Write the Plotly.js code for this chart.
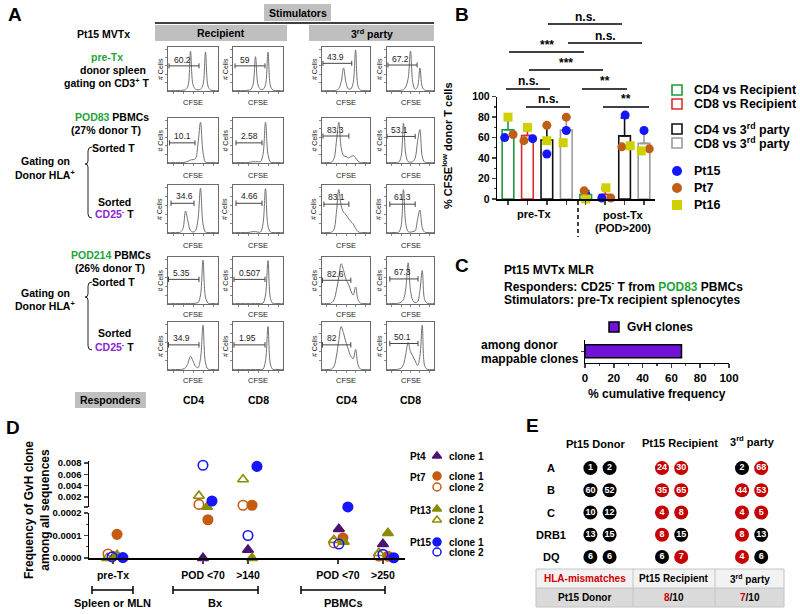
<!DOCTYPE html>
<html>
<head>
<meta charset="utf-8">
<script src="https://cdn.plot.ly/plotly-3.0.1.min.js"></script>
<style>html,body{margin:0;padding:0;background:#ffffff;}#chart{width:800px;height:614px;}</style>
</head>
<body>
<div id="chart"></div>
<script>
// ======================= DATA =======================
// ---- Panel A: CFSE dilution histograms (normalised log-CFSE grid, relative # cells) ----
const cfseGrid = [0,0.05,0.1,0.15,0.2,0.25,0.3,0.35,0.4,0.45,0.5,0.55,0.6,0.65,0.7,0.75,0.8,0.85,0.9,0.95,1];
// row 1: pre-Tx donor spleen
const histR1C1 = [.01,.01,.01,.01,.01,.01,.02,.03,.12,.95,.15,.04,.03,.04,.15,.93,.12,.02,.01,.01,.01];
const histR1C2 = [.01,.01,.01,.01,.01,.01,.02,.03,.15,.82,.15,.04,.04,.15,.93,.12,.02,.01,.01,.01,.01];
const histR1C3 = [.01,.01,.01,.01,.01,.01,.02,.06,.22,.55,.2,.05,.05,.2,.98,.12,.02,.01,.01,.01,.01];
const histR1C4 = [.01,.01,.01,.01,.01,.01,.02,.03,.1,.3,.95,.2,.04,.1,.55,.1,.02,.01,.01,.01,.01];
// row 2: POD83 sorted T
const histR2C1 = [.01,.01,.01,.01,.01,.01,.01,.02,.04,.07,.08,.1,.45,.95,.25,.02,.01,.01,.01,.01,.01];
const histR2C2 = [.01,.01,.01,.01,.01,.01,.01,.02,.03,.03,.03,.03,.2,.95,.2,.02,.01,.01,.01,.01,.01];
const histR2C3 = [.01,.01,.01,.01,.02,.1,.5,.95,.35,.17,.15,.12,.15,.17,.12,.04,.01,.01,.01,.01,.01];
const histR2C4 = [.01,.01,.01,.01,.01,.02,.15,.93,.2,.03,.02,.03,.12,.5,.78,.15,.02,.01,.01,.01,.01];
// row 3: POD83 sorted CD25- T
const histR3C1 = [.01,.01,.01,.01,.01,.02,.1,.48,.25,.05,.02,.05,.3,.98,.2,.02,.01,.01,.01,.01,.01];
const histR3C2 = [.01,.01,.01,.01,.01,.01,.01,.02,.03,.03,.02,.02,.2,.97,.15,.02,.01,.01,.01,.01,.01];
const histR3C3 = [.01,.01,.01,.01,.02,.08,.45,.95,.6,.45,.4,.32,.25,.2,.1,.03,.01,.01,.01,.01,.01];
const histR3C4 = [.01,.01,.01,.01,.01,.02,.15,.95,.2,.03,.02,.03,.05,.3,.5,.12,.02,.01,.01,.01,.01];
// row 4: POD214 sorted T
const histR4C1 = [.01,.01,.01,.01,.01,.01,.01,.01,.01,.01,.01,.02,.03,.2,.98,.15,.02,.01,.01,.01,.01];
const histR4C2 = [.01,.01,.01,.01,.01,.01,.01,.01,.01,.01,.01,.01,.02,.2,.97,.12,.01,.01,.01,.01,.01];
const histR4C3 = [.01,.01,.01,.01,.03,.1,.3,.6,.9,.75,.55,.45,.3,.2,.38,.1,.02,.01,.01,.01,.01];
const histR4C4 = [.01,.01,.01,.01,.01,.02,.04,.1,.35,.92,.3,.08,.03,.05,.3,.75,.1,.02,.01,.01,.01];
// row 5: POD214 sorted CD25- T
const histR5C1 = [.01,.01,.01,.01,.01,.01,.02,.05,.15,.3,.2,.08,.05,.25,.98,.15,.02,.01,.01,.01,.01];
const histR5C2 = [.01,.01,.01,.01,.01,.01,.01,.01,.01,.01,.01,.01,.02,.2,.95,.12,.01,.01,.01,.01,.01];
const histR5C3 = [.01,.01,.01,.01,.02,.08,.3,.65,.95,.8,.6,.45,.3,.25,.45,.12,.02,.01,.01,.01,.01];
const histR5C4 = [.01,.01,.01,.01,.01,.02,.04,.12,.35,.6,.4,.3,.2,.1,.3,.98,.1,.02,.01,.01,.01];
// gate percentages (CFSE-low)
const gateR1 = ['60.2','59','43.9','67.2'];
const gateR2 = ['10.1','2.58','83.3','53.1'];
const gateR3 = ['34.6','4.66','83.1','61.3'];
const gateR4 = ['5.35','0.507','82.6','67.3'];
const gateR5 = ['34.9','1.95','82','50.1'];
// gate extents (CFSE grid units) and level (# cells units)
const gateLoR1 = [.02,.04,.02,.02], gateHiR1 = [.62,.64,.62,.64], gateLvR1 = [.6,.6,.66,.62];
const gateLoR2 = [.03,.06,.02,.0],  gateHiR2 = [.54,.58,.56,.6],  gateLvR2 = [.47,.47,.63,.62];
const gateLoR3 = [.06,.06,.04,.06], gateHiR3 = [.52,.58,.56,.6],  gateLvR3 = [.65,.65,.63,.63];
const gateLoR4 = [.01,.02,.01,.06], gateHiR4 = [.62,.64,.6,.66],  gateLvR4 = [.55,.55,.53,.56];
const gateLoR5 = [.01,.02,.01,.06], gateHiR5 = [.62,.64,.6,.66],  gateLvR5 = [.55,.55,.55,.58];
const respondersA = ['CD4','CD8','CD4','CD8'];

// ---- Panel B ----
const bConditions = ['CD4 vs Recipient','CD8 vs Recipient','CD4 vs 3<sup>rd</sup> party','CD8 vs 3<sup>rd</sup> party'];
const bSlots = [1,2,3,4,5,6,7,8];           // pre-Tx: 1-4, post-Tx: 5-8
const bPatients = ['Pt15','Pt7','Pt16'];
const bPt15 = [60,59,44,67,5,1,82,67];
const bPt7  = [63,57,72,80,8,1,51,49];
const bPt16 = [80,70,57,55,0,11,52,47];
const bJitPt15 = [-0.17,0.27,0,0,0,-0.17,0.03,0];
const bJitPt7  = [0.26,-0.18,0,0,-0.08,0.29,-0.14,0.27];
const bJitPt16 = [0,0,0,-0.16,0,0.04,0.29,-0.14];
const bSigText = ['n.s.','n.s.','***','***','n.s.','**','n.s.','**'];

// ---- Panel C ----
const cSeries = 'GvH clones';
const cCategory = ['among donor','mappable clones'];
const cValue = [67];

// ---- Panel D ----
const dTickVals = [0,2,3,5,6];
const dTickText = ['pre-Tx','POD &lt;70','&gt;140','POD &lt;70','&gt;250'];
const dPt4c1  = [0.000005,0,0.000036,0.000129,0.000062];
const dPt7c1  = [0.000105,0.00017,0.00055,0.000089,0.000008];
const dPt7c2  = [0.000018,0.0007,0.00055,0.000067,0.000009];
const dPt13c1 = [0.000013,0.00025,0,0.000072,0.000111];
const dPt13c2 = [0,0.0022,0.0051,0.00008,0.000022];
const dPt15c1 = [0.000002,0.0013,0.0074,0.00025,0.000001];
const dPt15c2 = [0.000005,0.0076,0.0001,0.000062,0.000016];
const dJitPt4c1  = [0.02,0,0,0.02,0];
const dJitPt7c1  = [0.09,0.11,0.09,0.11,0.11];
const dJitPt7c2  = [-0.11,-0.09,-0.11,-0.09,-0.09];
const dJitPt13c1 = [0.09,0.09,0.09,0.13,0.11];
const dJitPt13c2 = [-0.13,-0.09,-0.11,-0.09,-0.09];
const dJitPt15c1 = [0.22,0.2,0.2,0.22,0.24];
const dJitPt15c2 = [-0.02,0,0,0.02,0];
const dLowTicks = [0,0.0001,0.0002], dLowText = ['0.0000','0.0001','0.0002'];
const dHighTicks = [0.002,0.004,0.006,0.008], dHighText = ['0.002','0.004','0.006','0.008'];

// ---- Panel E ----
const eLoci = ['A','B','C','DRB1','DQ'];
const eDonor     = [[1,2],[60,52],[10,12],[13,15],[6,6]];
const eRecipient = [[24,30],[35,65],[4,8],[8,15],[6,7]];
const eThird     = [[2,68],[44,53],[4,5],[8,13],[4,6]];
const eHeaders = ['Pt15 Donor','Pt15 Recipient','3<sup>rd</sup> party'];

// ======================= LAYOUT HELPERS =======================
const W = 800, H = 614;
const FONT = '"Liberation Sans", Arial, Helvetica, sans-serif';
const px = v => v / W, py = v => 1 - v / H;
const layout = {
  width: W, height: H, margin: {l:0, r:0, t:0, b:0, pad:0},
  paper_bgcolor: '#ffffff', plot_bgcolor: 'rgba(0,0,0,0)', showlegend: false,
  font: {family: FONT, size: 10, color: '#000'}, barmode: 'overlay',
  annotations: [], shapes: []
};
const data = [];
function T(x, y, text, o) {
  o = o || {};
  const a = {
    xref: o.xref || 'paper', yref: o.yref || 'paper',
    x: o.xref ? x : px(x), y: o.yref ? y : py(y),
    text: text, showarrow: false, xanchor: o.anchor || 'center', yanchor: 'middle',
    font: {family: FONT, size: o.size || 10.5, color: o.color || '#000', weight: o.weight || 'bold'}
  };
  if (o.angle !== undefined) a.textangle = o.angle;
  layout.annotations.push(a);
}
function rectPx(x0, y0, x1, y1, fill, lineColor) {
  layout.shapes.push({type:'rect', xref:'paper', yref:'paper', x0:px(x0), x1:px(x1), y0:py(y1), y1:py(y0),
    fillcolor: fill, line: lineColor ? {color: lineColor, width: 1} : {width: 0}, layer: 'below'});
}
function linePx(x0, y0, x1, y1, color, width, dash) {
  layout.shapes.push({type:'line', xref:'paper', yref:'paper', x0:px(x0), x1:px(x1), y0:py(y0), y1:py(y1),
    line: {color: color || '#000', width: width || 1, dash: dash || 'solid'}});
}
const P = (a, b) => px(a) + ',' + py(b);
function brace(x, top, tip, bottom) {
  layout.shapes.push({type:'path', xref:'paper', yref:'paper', line:{color:'#222', width:1},
    path: `M${P(x+4,top)} Q${P(x,top)} ${P(x,top+4)} L${P(x,tip-3)} Q${P(x,tip)} ${P(x-3,tip)} Q${P(x,tip)} ${P(x,tip+3)} L${P(x,bottom-4)} Q${P(x,bottom)} ${P(x+4,bottom)}`});
}
function hbracket(x0, x1, y) {
  layout.shapes.push({type:'path', xref:'paper', yref:'paper', line:{color:'#000', width:1.5},
    path: `M${P(x0,y-4)} L${P(x0,y+4)} M${P(x0,y)} L${P(x1,y)} M${P(x1,y-4)} L${P(x1,y+4)}`});
}

// ======================= PANEL A =======================
const histAll = [[histR1C1,histR1C2,histR1C3,histR1C4],[histR2C1,histR2C2,histR2C3,histR2C4],
  [histR3C1,histR3C2,histR3C3,histR3C4],[histR4C1,histR4C2,histR4C3,histR4C4],[histR5C1,histR5C2,histR5C3,histR5C4]];
const gateAll = [gateR1,gateR2,gateR3,gateR4,gateR5];
const gateLo = [gateLoR1,gateLoR2,gateLoR3,gateLoR4,gateLoR5];
const gateHi = [gateHiR1,gateHiR2,gateHiR3,gateHiR4,gateHiR5];
const gateLv = [gateLvR1,gateLvR2,gateLvR3,gateLvR4,gateLvR5];
const aColX = [[168,218],[233,283],[322,370],[387,434]];
const aRowY = [[47,91],[118,163],[185,233],[257,304],[322,370]];
const aCfseY = [103,175,246,314,380];
for (let r = 0; r < 5; r++) {
  for (let c = 0; c < 4; c++) {
    const i = r * 4 + c + 1, s = i === 1 ? '' : String(i);
    const [x0, x1] = aColX[c], [y0, y1] = aRowY[r];
    const common = {showline:true, mirror:true, linecolor:'#6a6a6a', linewidth:1, ticks:'outside', ticklen:2,
      tickwidth:0.8, tickcolor:'#6a6a6a', showticklabels:false, showgrid:false, zeroline:false, fixedrange:true};
    layout['xaxis' + s] = Object.assign({domain:[px(x0), px(x1)], range:[0,1], anchor:'y' + s,
      tickvals:[0.1,0.3,0.5,0.7,0.9]}, common);
    layout['yaxis' + s] = Object.assign({domain:[py(y1), py(y0)], range:[0,1.05], anchor:'x' + s,
      tickvals:[0.2,0.4,0.6,0.8,1.0]}, common);
    data.push({type:'scatter', mode:'lines', x:cfseGrid, y:histAll[r][c], xaxis:'x' + s, yaxis:'y' + s,
      line:{color:'#707070', width:1, shape:'spline', smoothing:1}, hoverinfo:'skip'});
    const lo = gateLo[r][c], hi = gateHi[r][c], lv = gateLv[r][c];
    layout.shapes.push({type:'path', xref:'x' + s, yref:'y' + s, line:{color:'#444', width:1},
      path:`M${lo},${lv-0.06} L${lo},${lv+0.06} M${lo},${lv} L${hi},${lv} M${hi},${lv-0.06} L${hi},${lv+0.06}`});
    T(lo + 0.05, lv + 0.15, gateAll[r][c], {xref:'x' + s, yref:'y' + s, anchor:'left', size:8.5, weight:'normal', color:'#222'});
    T((x0 + x1) / 2, aCfseY[r], 'CFSE', {size:7.5, weight:'normal', color:'#222'});
    T(x0 - 8, (y0 + y1) / 2, '# Cells', {size:7, weight:'normal', color:'#222', angle:-90});
  }
}
// headers / labels of panel A
T(15, 14, 'A', {size:19});
rectPx(264, 4, 331, 21, '#bfbfbf'); T(297.5, 12.5, 'Stimulators');
linePx(155, 23, 434, 23, '#000', 1.5);
rectPx(155, 25, 287, 41, '#bfbfbf'); T(221, 33, 'Recipient');
rectPx(309, 25, 434, 41, '#bfbfbf'); T(371.5, 33, '3<sup>rd</sup> party');
rectPx(75, 392, 146, 408, '#bfbfbf'); T(110.5, 400, 'Responders');
respondersA.forEach((t, c) => T((aColX[c][0] + aColX[c][1]) / 2, 400, t));
const GREEN = '#1fa33a', PURPLE = '#8e24d8';
T(103, 34, 'Pt15 MVTx');
T(107, 57, 'pre-Tx', {color: GREEN});
T(113, 70, 'donor spleen');
T(106, 82, 'gating on CD3<sup>+</sup> T');
T(112, 117, `<span style="color:${GREEN}">POD83</span> PBMCs`);
T(106, 130, '(27% donor T)');
T(114, 148, 'Sorted T');
T(45, 161, 'Gating on'); T(45, 174, 'Donor HLA<sup>+</sup>');
T(114.5, 202, 'Sorted');
T(115, 214, `<span style="color:${PURPLE}">CD25<sup>-</sup></span> T`);
T(111, 255, `<span style="color:${GREEN}">POD214</span> PBMCs`);
T(110, 268, '(26% donor T)');
T(114, 282, 'Sorted T');
T(45, 293, 'Gating on'); T(45, 305, 'Donor HLA<sup>+</sup>');
T(114.5, 333, 'Sorted');
T(115, 346, `<span style="color:${PURPLE}">CD25<sup>-</sup></span> T`);
brace(88, 147, 164, 218);
brace(88, 282, 297, 350);

// ======================= PANEL B =======================
const condColors = ['#1c9b3e','#e02a2a','#111111','#9b9b9b'];
const bSeries = [bPt15, bPt7, bPt16];
const bJit = [bJitPt15, bJitPt7, bJitPt16];
const bMean = [], bSD = [];
for (let j = 0; j < bSlots.length; j++) {
  const v = bSeries.map(s => s[j]);
  const m = v.reduce((a, b) => a + b, 0) / v.length;
  bMean.push(m);
  bSD.push(Math.sqrt(v.reduce((a, b) => a + (b - m) * (b - m), 0) / (v.length - 1)));
}
layout.xaxis21 = {domain:[px(497.3), px(654.7)], range:[0.45, 8.55], anchor:'y21', showline:true, linecolor:'#000',
  linewidth:1.5, ticks:'outside', ticklen:4, tickwidth:1.5, tickvals:bSlots, showticklabels:false, showgrid:false, zeroline:false};
layout.yaxis21 = {domain:[py(199), py(96.7)], range:[0, 100], anchor:'x21', showline:true, linecolor:'#000', linewidth:1.5,
  ticks:'outside', ticklen:4, tickwidth:1.5, tickvals:[0,20,40,60,80,100], tickfont:{size:10.5, weight:'bold'},
  minor:{tickvals:[10,30,50,70,90], ticks:'outside', ticklen:2, tickwidth:1.2}, showgrid:false, zeroline:false};
for (let k = 0; k < 4; k++) {
  data.push({type:'bar', x:[bSlots[k], bSlots[k + 4]], y:[bMean[k], bMean[k + 4]], width:0.6, xaxis:'x21', yaxis:'y21',
    name: bConditions[k], marker:{color:'#ffffff', line:{color:condColors[k], width:1.6}},
    error_y:{type:'data', symmetric:false, array:[bSD[k], bSD[k + 4]], arrayminus:[0, 0], color:condColors[k], thickness:1.6, width:4},
    hoverinfo:'skip'});
}
const ptStyles = [{color:'#1515ff', symbol:'circle'}, {color:'#bf5f16', symbol:'circle'}, {color:'#d0d000', symbol:'square'}];
bSeries.forEach((s, p) => {
  data.push({type:'scatter', mode:'markers', name:bPatients[p], x:bSlots.map((b, j) => b + bJit[p][j]), y:s,
    xaxis:'x21', yaxis:'y21', cliponaxis:false, marker:{color:ptStyles[p].color, symbol:ptStyles[p].symbol, size:9}, hoverinfo:'skip'});
});
T(462, 14, 'B', {size:19});
T(447, 146, '% CFSE<sup>low</sup> donor T cells', {size:11, angle:-90});
T(534, 214, 'pre-Tx', {size:11});
T(623, 215, 'post-Tx', {size:11});
T(623, 228, '(POD&gt;200)', {size:11});
linePx(578, 201, 578, 237, '#000', 1.5, '4px,3px');
// significance bars [x0, x1, y], same order as bSigText
const sigBars = [[548,622,24],[568,642,43],[509,584,52],[529,603,70],[506,550,89],[582,627,89],[526,570,107],[603,649,107]];
sigBars.forEach((b, i) => {
  linePx(b[0], b[2], b[1], b[2], '#000', 1.5);
  T((b[0] + b[1]) / 2, b[2] - 7.5, bSigText[i], {size:12});
});

// ======================= PANEL C =======================
const PURP_BAR = '#7112d8';
layout.xaxis22 = {domain:[px(585), px(729)], range:[0, 100], anchor:'y22', showline:true, linecolor:'#000', linewidth:1.5,
  ticks:'outside', ticklen:4, tickwidth:1.5, tickvals:[0,20,40,60,80,100], tickfont:{size:11.5, weight:'bold'},
  minor:{tickvals:[10,30,50,70,90], ticks:'outside', ticklen:2, tickwidth:1.2}, showgrid:false, zeroline:false};
layout.yaxis22 = {domain:[py(362.5), py(340)], range:[-0.5, 0.5], anchor:'x22', showline:true, linecolor:'#000', linewidth:1.5,
  ticks:'outside', ticklen:3, tickwidth:1.5, tickvals:[0], showticklabels:false, showgrid:false, zeroline:false};
data.push({type:'bar', orientation:'h', x:cValue, y:[0], width:0.57, xaxis:'x22', yaxis:'y22', name:cSeries,
  marker:{color:PURP_BAR, line:{color:'#000', width:1.5}}, hoverinfo:'skip'});
T(462, 265, 'C', {size:19});
T(502, 270, 'Pt15 MVTx MLR', {anchor:'left', size:12});
T(502, 286, `Responders: CD25<sup>-</sup> T from <span style="color:${GREEN}">POD83</span> PBMCs`, {anchor:'left', size:12});
T(502, 300, 'Stimulators: pre-Tx recipient splenocytes', {anchor:'left', size:12});
T(479, 345, cCategory[0], {anchor:'left', size:12});
T(479, 359, cCategory[1], {anchor:'left', size:12});
T(657, 394, '% cumulative frequency', {size:12});
T(625, 327, cSeries, {anchor:'left', size:12});

// ======================= PANEL D =======================
layout.xaxis23 = {domain:[px(89), px(405)], range:[-0.533, 6.49], anchor:'y23', showline:true, linecolor:'#000', linewidth:1.5,
  ticks:'outside', ticklen:4, tickwidth:1.5, tickvals:dTickVals, ticktext:dTickText, tickfont:{size:10.5, weight:'bold'},
  ticklabelstandoff:3, showgrid:false, zeroline:false};
layout.yaxis23 = {domain:[py(558), py(513)], range:[0, 0.0002], anchor:'x23', showline:true, linecolor:'#000', linewidth:1.5,
  ticks:'outside', ticklen:4, tickwidth:1.5, tickvals:dLowTicks, ticktext:dLowText, tickfont:{size:9.5, weight:'bold'},
  minor:{tickvals:[0.00005,0.00015], ticks:'outside', ticklen:2, tickwidth:1.2}, showgrid:false, zeroline:false};
layout.yaxis24 = {domain:[py(507), py(461.3)], range:[0.00024, 0.0083], anchor:'x23', showline:true, linecolor:'#000', linewidth:1.5,
  ticks:'outside', ticklen:4, tickwidth:1.5, tickvals:dHighTicks, ticktext:dHighText, tickfont:{size:9.5, weight:'bold'},
  minor:{tickvals:[0.00024], ticks:'outside', ticklen:4, tickwidth:1.5}, showgrid:false, zeroline:false};
const dSeries = [
  {grp:'Pt4', name:'clone 1', v:dPt4c1, j:dJitPt4c1, color:'#4b1470', symbol:'triangle-up'},
  {grp:'Pt7', name:'clone 1', v:dPt7c1, j:dJitPt7c1, color:'#c55a11', symbol:'circle'},
  {grp:'Pt7', name:'clone 2', v:dPt7c2, j:dJitPt7c2, color:'#c55a11', symbol:'circle-open'},
  {grp:'Pt13', name:'clone 1', v:dPt13c1, j:dJitPt13c1, color:'#8c8c00', symbol:'triangle-up'},
  {grp:'Pt13', name:'clone 2', v:dPt13c2, j:dJitPt13c2, color:'#8c8c00', symbol:'triangle-up-open'},
  {grp:'Pt15', name:'clone 1', v:dPt15c1, j:dJitPt15c1, color:'#1515ff', symbol:'circle'},
  {grp:'Pt15', name:'clone 2', v:dPt15c2, j:dJitPt15c2, color:'#1515ff', symbol:'circle-open'}
];
const D_BREAK = 0.0002;
dSeries.forEach(s => {
  const lowX = [], lowY = [], hiX = [], hiY = [];
  s.v.forEach((v, k) => {
    const xv = dTickVals[k] + s.j[k];
    if (v > D_BREAK) { hiX.push(xv); hiY.push(v); } else { lowX.push(xv); lowY.push(v); }
  });
  const mk = {color:s.color, symbol:s.symbol, size:9.5, line:{color:s.color, width:1.6}};
  data.push({type:'scatter', mode:'markers', name:s.grp + ' ' + s.name, x:lowX, y:lowY, xaxis:'x23', yaxis:'y23', cliponaxis:false, marker:mk, hoverinfo:'skip'});
  data.push({type:'scatter', mode:'markers', name:s.grp + ' ' + s.name, x:hiX, y:hiY, xaxis:'x23', yaxis:'y24', cliponaxis:false, marker:mk, hoverinfo:'skip'});
});
T(13, 427, 'D', {size:19});
T(37, 510, 'Frequency of GvH clone<br>among all sequences', {size:12, angle:-90});
hbracket(92, 133, 590); T(112, 603, 'Spleen or MLN', {size:11});
hbracket(173, 258, 590); T(215, 603, 'Bx', {size:11});
hbracket(301, 385, 590); T(343, 603, 'PBMCs', {size:11});

// ======================= PANEL E =======================
layout.xaxis24 = {domain:[px(575), px(775)], range:[0, 10], anchor:'y25', visible:false, fixedrange:true};
layout.yaxis25 = {domain:[py(568), py(457)], range:[4.5, -0.5], anchor:'x24', visible:false, fixedrange:true};
const eCols = [eDonor, eRecipient, eThird];
const eColCenter = [1.25, 4.83, 8.83];
const eX = [], eY = [], eTxt = [], eCol = [];
const eMismatch = [0, 0, 0];
eCols.forEach((col, c) => {
  col.forEach((pair, r) => {
    pair.forEach((al, a) => {
      const mm = !eDonor[r].includes(al);
      if (mm) eMismatch[c]++;
      eX.push(eColCenter[c] + (a === 0 ? -0.48 : 0.48));
      eY.push(r); eTxt.push(String(al)); eCol.push(mm ? '#c40000' : '#000000');
    });
  });
});
data.push({type:'scatter', mode:'markers+text', x:eX, y:eY, text:eTxt, xaxis:'x24', yaxis:'y25', cliponaxis:false,
  textposition:'middle center', textfont:{family:FONT, size:9, color:'#ffffff', weight:'bold'},
  marker:{color:eCol, size:14, line:{width:0}}, hoverinfo:'skip'});
eLoci.forEach((l, r) => T(551, r, l, {yref:'y25', size:11}));
T(532, 425, 'E', {size:19});
T(595, 444, eHeaders[0], {size:11});
T(680, 443, eHeaders[1], {size:11});
T(752, 441, eHeaders[2], {size:11});
// mismatch summary table
const RED = '#d00000';
const tblX = [536, 633, 715, 784], tblY = [569, 588, 607];
rectPx(tblX[0], tblY[0], tblX[3], tblY[1], '#f2f2f2');
rectPx(tblX[0], tblY[1], tblX[3], tblY[2], '#dadada');
rectPx(tblX[0], tblY[0], tblX[3], tblY[2], 'rgba(0,0,0,0)', '#c4c4c4');
linePx(tblX[0], tblY[1], tblX[3], tblY[1], '#c4c4c4', 1);
linePx(tblX[1], tblY[0], tblX[1], tblY[2], '#c4c4c4', 1);
linePx(tblX[2], tblY[0], tblX[2], tblY[2], '#c4c4c4', 1);
const cx = k => (tblX[k] + tblX[k + 1]) / 2, r1 = (tblY[0] + tblY[1]) / 2, r2 = (tblY[1] + tblY[2]) / 2;
T(cx(0), r1, 'HLA-mismatches', {size:10, color:RED});
T(cx(1), r1, eHeaders[1], {size:10});
T(cx(2), r1, eHeaders[2], {size:10});
T(cx(0), r2, eHeaders[0], {size:10});
T(cx(1), r2, `<span style="color:${RED}">${eMismatch[1]}</span>/10`, {size:10});
T(cx(2), r2, `<span style="color:${RED}">${eMismatch[2]}</span>/10`, {size:10});

// ======================= MANUAL LEGENDS (pixel overlay axis) =======================
layout.xaxis25 = {domain:[0, 1], range:[0, W], anchor:'y26', visible:false, fixedrange:true};
layout.yaxis26 = {domain:[0, 1], range:[H, 0], anchor:'x25', visible:false, fixedrange:true};
const legB = {x:677, tx:692, yCond:[90,104,129,143], yPt:[171,188,205]};
bConditions.forEach((n, k) => {
  data.push({type:'scatter', mode:'markers', x:[legB.x], y:[legB.yCond[k]], xaxis:'x25', yaxis:'y26', cliponaxis:false,
    marker:{symbol:'square-open', size:10, color:condColors[k], line:{color:condColors[k], width:1.6}}, hoverinfo:'skip'});
  T(legB.tx, legB.yCond[k], n, {anchor:'left', size:12.5});
});
bPatients.forEach((n, p) => {
  data.push({type:'scatter', mode:'markers', x:[legB.x], y:[legB.yPt[p]], xaxis:'x25', yaxis:'y26', cliponaxis:false,
    marker:{symbol:ptStyles[p].symbol, size:10, color:ptStyles[p].color}, hoverinfo:'skip'});
  T(legB.tx, legB.yPt[p], n, {anchor:'left', size:12.5});
});
data.push({type:'scatter', mode:'markers', x:[614], y:[327], xaxis:'x25', yaxis:'y26', cliponaxis:false,
  marker:{symbol:'square', size:10, color:PURP_BAR, line:{color:'#000', width:1.5}}, hoverinfo:'skip'});
const legD = {x:437, tx:447, gx:408, y:[456,476,487,509,520,542,552], gy:[456,477,510,542]};
dSeries.forEach((s, k) => {
  data.push({type:'scatter', mode:'markers', x:[legD.x], y:[legD.y[k]], xaxis:'x25', yaxis:'y26', cliponaxis:false,
    marker:{symbol:s.symbol, size:8, color:s.color, line:{color:s.color, width:1.5}}, hoverinfo:'skip'});
  T(legD.tx, legD.y[k], s.name, {anchor:'left', size:10});
});
['Pt4','Pt7','Pt13','Pt15'].forEach((g, k) => T(legD.gx, legD.gy[k], g, {anchor:'left', size:10}));

Plotly.newPlot('chart', data, layout, {staticPlot:true, displayModeBar:false});
</script>
</body>
</html>
